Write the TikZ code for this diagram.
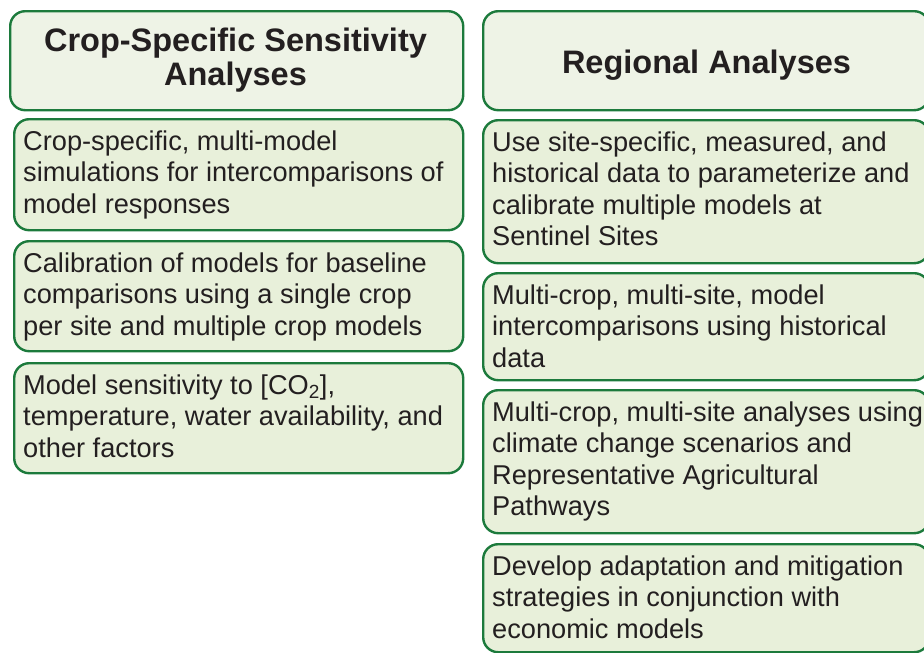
\documentclass[tikz,border=0pt]{standalone}
\usepackage{fontspec}
\setmainfont{Liberation Sans}
\definecolor{bordergreen}{HTML}{1C7A3C}
\definecolor{headfill}{HTML}{EEF3E6}
\definecolor{boxfill}{HTML}{E8F0DA}
\definecolor{txt}{HTML}{231F20}
\tikzset{
  headbox/.style={draw=bordergreen, fill=headfill, line width=2.4pt, rounded corners=15pt, inner sep=0pt, anchor=north west},
  itembox/.style={draw=bordergreen, fill=boxfill, line width=2.4pt, rounded corners=15pt, inner sep=0pt, anchor=north west},
  headtext/.style={text=txt, align=center, inner sep=0pt, anchor=north, font=\fontsize{32.5}{32}\selectfont\bfseries},
  itemtext/.style={text=txt, align=left, inner sep=0pt, anchor=north west, font=\fontsize{27.2}{31.5}\selectfont}
}
\begin{document}
\begin{tikzpicture}[x=1pt,y=-1pt]
\useasboundingbox (0,0) rectangle (924,653);
% headers
\node[headbox, minimum width=453pt, minimum height=99pt] (lh) at (9,10) {};
\node[headtext] (lht) at (235.5,27.6) {\strut Crop-Specific Sensitivity\\Analyses};
\node[headbox, minimum width=446pt, minimum height=99pt] (rh) at (482,10) {};
\node[headtext] (rht) at (706.5,49.6) {\strut Regional Analyses};
% left items
\node[itembox, minimum width=449pt, minimum height=111pt] (l1) at (13,118) {};
\node[itemtext] (l1t) at (23,128) {\strut Crop-specific, multi-model\\simulations for intercomparisons of\\model responses};
\node[itembox, minimum width=449pt, minimum height=110pt] (l2) at (13,240) {};
\node[itemtext] (l2t) at (23,250) {\strut Calibration of models for baseline\\comparisons using a single crop\\per site and multiple crop models};
\node[itembox, minimum width=449pt, minimum height=110pt] (l3) at (13,362) {};
\node[itemtext] (l3t) at (23,372) {\strut Model sensitivity to [CO\textsubscript{2}],\\temperature, water availability, and\\other factors};
% right items
\node[itembox, minimum width=446pt, minimum height=143pt] (r1) at (482,119) {};
\node[itemtext] (r1t) at (492,129) {\strut Use site-specific, measured, and\\historical data to parameterize and\\calibrate multiple models at\\Sentinel Sites};
\node[itembox, minimum width=446pt, minimum height=107pt] (r2) at (482,272) {};
\node[itemtext] (r2t) at (492,282) {\strut Multi-crop, multi-site, model\\intercomparisons using historical\\data};
\node[itembox, minimum width=446pt, minimum height=143pt] (r3) at (482,389) {};
\node[itemtext] (r3t) at (492,399) {\strut Multi-crop, multi-site analyses using\\climate change scenarios and\\Representative Agricultural\\Pathways};
\node[itembox, minimum width=446pt, minimum height=108pt] (r4) at (482,543) {};
\node[itemtext] (r4t) at (492,553) {\strut Develop adaptation and mitigation\\strategies in conjunction with\\economic models};
\end{tikzpicture}
\end{document}
